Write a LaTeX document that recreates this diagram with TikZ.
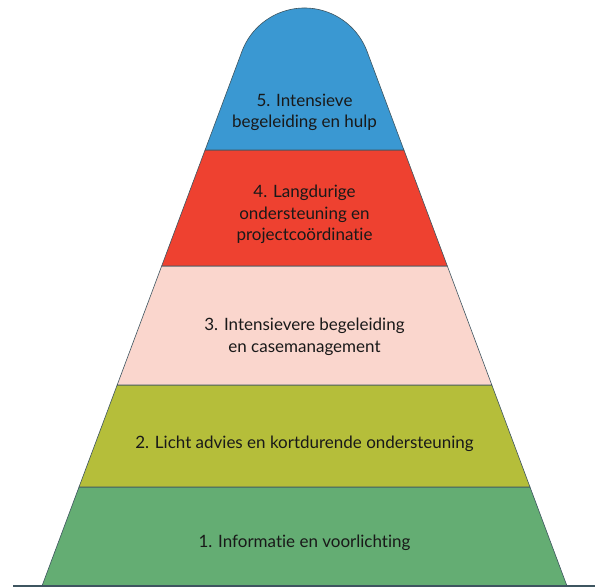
\documentclass[tikz,border=0pt]{standalone}
\usepackage{fontspec}
\setmainfont{Lato}[Ligatures=CommonOff]
\definecolor{infogreen}{HTML}{64AD73}
\definecolor{adviceolive}{HTML}{B5BE3A}
\definecolor{casepink}{HTML}{FAD6CD}
\definecolor{projectred}{HTML}{EE4130}
\definecolor{helpblue}{HTML}{3A98D2}
\definecolor{pyrline}{HTML}{3E5560}
\newcommand{\pyrleft}{42}
\newcommand{\pyrslope}{0.374}
\newcommand{\pyraxis}{304.5}
\newcommand{\band}[3]{%kwargs y0, y1, colour
  \pgfmathsetmacro{\xlow}{\pyrleft+\pyrslope*#1}
  \pgfmathsetmacro{\xhigh}{\pyrleft+\pyrslope*#2}
  \filldraw[fill=#3, draw=pyrline, line width=0.6pt]
  (\xlow,#1) -- (\xhigh,#2) -- ({2*\pyraxis-\xhigh},#2)
  -- ({2*\pyraxis-\xlow},#1) -- cycle;
}
\tikzset{lvltext/.style={align=center, inner sep=0pt, text=black!90,
    font=\fontsize{17}{21.5}\selectfont}}

\begin{document}
\begin{tikzpicture}[x=1pt,y=1pt]
    \useasboundingbox (0,-2) rectangle (595,586);
    %bands from bottom to top
    \band{0}{99}{infogreen}
    \band{99}{201}{adviceolive}
    \band{201}{320}{casepink}
    \band{320}{436}{projectred}
    %rounded top
    \filldraw[fill=helpblue, draw=pyrline, line width=0.6pt]
    (205.1,436) -- (241.95,534.6)
    arc[start angle=159.5, end angle=20.5, radius=66.78]
    -- (403.9,436) -- cycle;
    %ground line
    \coordinate (baseL) at (13,0);
    \coordinate (baseR) at (595,0);
    \draw[pyrline, line width=1.2pt] (baseL) -- (baseR);
    %labels
    \node[lvltext] (lvl1) at (\pyraxis,43.5) {1. Informatie en voorlichting};
    \node[lvltext] (lvl2) at (\pyraxis,142.5) {2. Licht advies en kortdurende ondersteuning};
    \node[lvltext] (lvl3) at (\pyraxis,249.4) {3. Intensievere begeleiding\\en casemanagement};
    \node[lvltext] (lvl4) at (\pyraxis,371.5) {4. Langdurige\\ondersteuning en\\projectco\"ordinatie};
    \node[lvltext] (lvl5) at (\pyraxis,473.5) {5. Intensieve\\begeleiding en hulp};
\end{tikzpicture}
\end{document}
